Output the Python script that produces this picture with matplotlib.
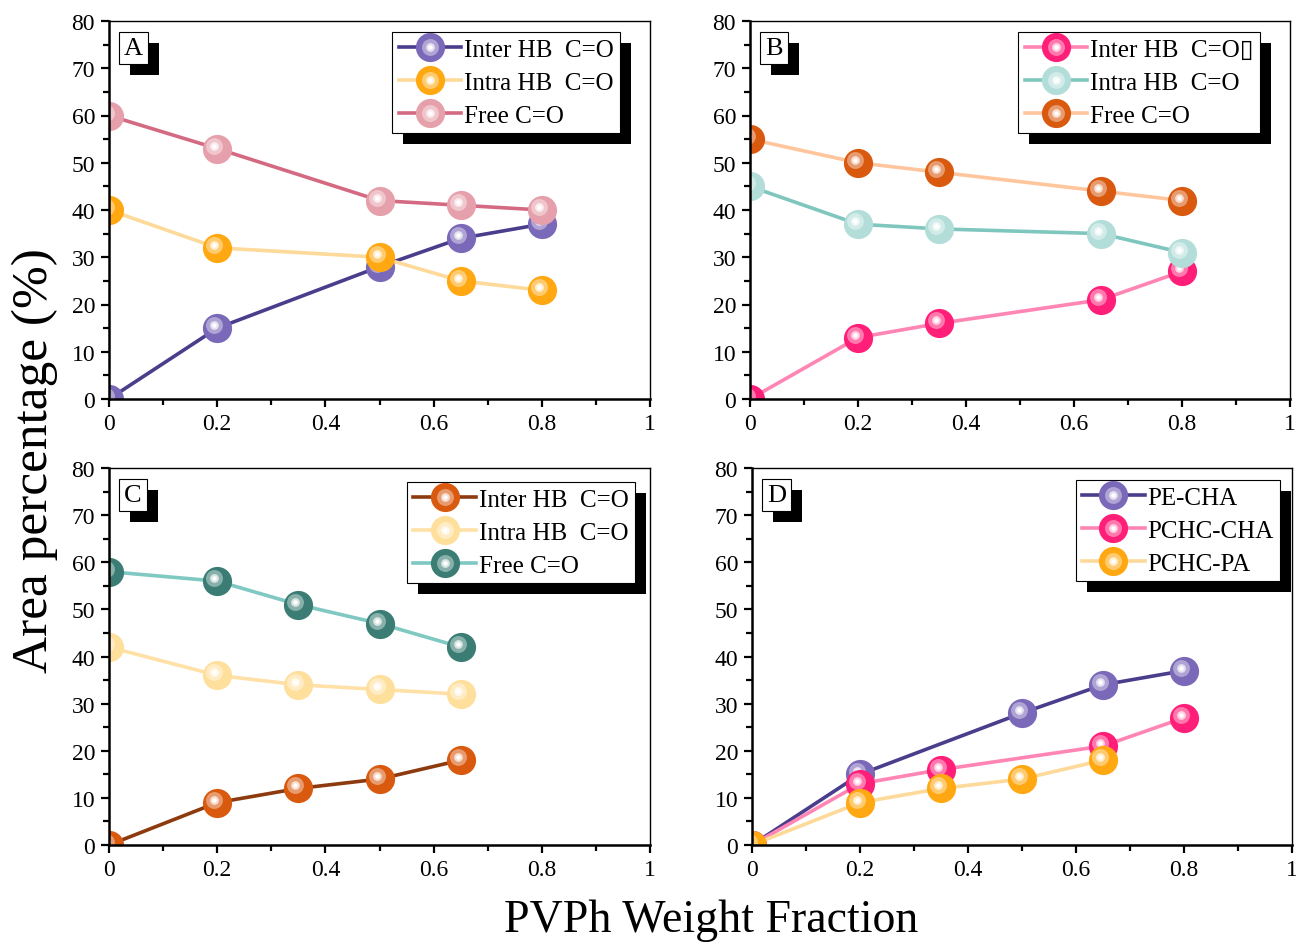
import matplotlib
matplotlib.use("Agg")
import matplotlib.pyplot as plt
import matplotlib.transforms as mtransforms
from matplotlib.patches import Rectangle
from matplotlib.ticker import MultipleLocator, FixedLocator

plt.rcParams['font.family'] = ['Liberation Serif', 'DejaVu Sans']

# ---------------- data ----------------
xA_inter = [0, 0.2, 0.5, 0.65, 0.8]
yA_inter = [0, 15, 28, 34, 37]
xA_intra = [0, 0.2, 0.5, 0.65, 0.8]
yA_intra = [40, 32, 30, 25, 23]
xA_free = [0, 0.2, 0.5, 0.65, 0.8]
yA_free = [60, 53, 42, 41, 40]

xB = [0, 0.2, 0.35, 0.65, 0.8]
yB_inter = [0, 13, 16, 21, 27]
yB_intra = [45, 37, 36, 35, 31]
yB_free = [55, 50, 48, 44, 42]

xC = [0, 0.2, 0.35, 0.5, 0.65]
yC_inter = [0, 9, 12, 14, 18]
yC_intra = [42, 36, 34, 33, 32]
yC_free = [58, 56, 51, 47, 42]

xD_pe = [0, 0.2, 0.5, 0.65, 0.8]
yD_pe = [0, 15, 28, 34, 37]
xD_pchc_cha = [0, 0.2, 0.35, 0.65, 0.8]
yD_pchc_cha = [0, 13, 16, 21, 27]
xD_pchc_pa = [0, 0.2, 0.35, 0.5, 0.65]
yD_pchc_pa = [0, 9, 12, 14, 18]

labels_ABC = ["Inter HB  C=O", "Intra HB  C=O", "Free C=O"]
labels_B = ["Inter HB  C=O\u25AF", "Intra HB  C=O", "Free C=O"]
labels_D = ["PE-CHA", "PCHC-CHA", "PCHC-PA"]
panel_letters = ["A", "B", "C", "D"]
xtick_vals = [0, 0.2, 0.4, 0.6, 0.8, 1]
xtick_labels = ["0", "0.2", "0.4", "0.6", "0.8", "1"]

# colours (line, marker)
PURPLE = ("#4a3d8c", "#7a68b8")
ORANGE = ("#fdd99a", "#ffa812")
PINKA = ("#d46a82", "#e6a0ab")
MAGENTA = ("#ff85b5", "#ff1f78")
TEALL = ("#7fc6bf", "#b2ddd9")
PEACH = ("#ffc69e", "#d9590f")
BROWN = ("#8c3a0e", "#d9590f")
CREAM = ("#ffe0a6", "#ffdf9c")
TEALD = ("#7fc9c2", "#3b7d74")

W, H = 1296, 945
fig = plt.figure(figsize=(W / 100, H / 100), dpi=100)

def px_axes(x0, x1, y_top, y_bot):
    return fig.add_axes([x0 / W, 1 - y_bot / H, (x1 - x0) / W, (y_bot - y_top) / H])

axA = px_axes(109, 650, 22, 400)
axB = px_axes(750, 1290, 22, 400)
axC = px_axes(109, 650, 469, 846)
axD = px_axes(752, 1292, 469, 846)

MS = 21

def lighten(c, f):
    r, g, b = matplotlib.colors.to_rgb(c)
    return (r + (1 - r) * f, g + (1 - g) * f, b + (1 - b) * f)

def ball(ax, x, y, cols, label):
    lc, mc = cols
    ln, = ax.plot(x, y, '-', color=lc, lw=2.6, marker='o', ms=MS,
                  mfc=mc, mec=mc, mew=0)
    tr = mtransforms.offset_copy(ax.transData, fig=fig, x=-3, y=3, units='dots')
    h1, = ax.plot(x, y, 'o', ls='none', ms=MS * 0.58, mfc=lighten(mc, 0.4),
                  mew=0, transform=tr)
    h2, = ax.plot(x, y, 'o', ls='none', ms=MS * 0.3, mfc=lighten(mc, 0.8),
                  mew=0, transform=tr)
    h3, = ax.plot(x, y, 'o', ls='none', ms=MS * 0.15, mfc='white',
                  mew=0, transform=tr)
    return (ln, h1, h2, h3), label

def style(ax, letter):
    ax.set_xlim(0, 1)
    ax.set_ylim(0, 80)
    ax.xaxis.set_major_locator(FixedLocator(xtick_vals))
    ax.set_xticklabels(xtick_labels)
    ax.xaxis.set_minor_locator(MultipleLocator(0.1))
    ax.yaxis.set_major_locator(MultipleLocator(10))
    ax.yaxis.set_minor_locator(MultipleLocator(5))
    ax.tick_params(which='both', direction='out', top=False, right=False,
                   labelsize=17, width=1.6)
    ax.tick_params(which='major', length=6, pad=4)
    ax.tick_params(which='minor', length=4)
    for s in ['left', 'bottom']:
        ax.spines[s].set_linewidth(1.8)
    for s in ['top', 'right']:
        ax.spines[s].set_linewidth(1.0)
    t = ax.text(0.028, 0.958, letter, transform=ax.transAxes, fontsize=19,
                va='top', ha='left', zorder=20,
                bbox=dict(boxstyle='square,pad=0.2', fc='white', ec='black', lw=0.8))
    return t

hA = [ball(axA, xA_inter, yA_inter, PURPLE, labels_ABC[0]),
      ball(axA, xA_intra, yA_intra, ORANGE, labels_ABC[1]),
      ball(axA, xA_free, yA_free, PINKA, labels_ABC[2])]
hB = [ball(axB, xB, yB_inter, MAGENTA, labels_B[0]),
      ball(axB, xB, yB_intra, TEALL, labels_B[1]),
      ball(axB, xB, yB_free, PEACH, labels_B[2])]
hC = [ball(axC, xC, yC_inter, BROWN, labels_ABC[0]),
      ball(axC, xC, yC_intra, CREAM, labels_ABC[1]),
      ball(axC, xC, yC_free, TEALD, labels_ABC[2])]
hD = [ball(axD, xD_pe, yD_pe, PURPLE, labels_D[0]),
      ball(axD, xD_pchc_cha, yD_pchc_cha, MAGENTA, labels_D[1]),
      ball(axD, xD_pchc_pa, yD_pchc_pa, ORANGE, labels_D[2])]

axes = [axA, axB, axC, axD]
texts = []
legs = []
anchors = [(0.945, 0.971), (0.944, 0.971), (0.972, 0.963), (0.978, 0.968)]
for ax, hs, letter, anc in zip(axes, [hA, hB, hC, hD], panel_letters, anchors):
    texts.append(style(ax, letter))
    leg = ax.legend([h for h, _ in hs], [l for _, l in hs], loc='upper right',
                    bbox_to_anchor=anc, borderaxespad=0, fontsize=18,
                    handlelength=2.5, handletextpad=0.12, labelspacing=0.42,
                    borderpad=0.25, fancybox=False, framealpha=1,
                    edgecolor='black')
    leg.get_frame().set_linewidth(0.8)
    leg.set_zorder(20)
    legs.append(leg)

fig.text(0.027, 0.513, "Area percentage (%)", rotation=90, fontsize=37,
         ha='center', va='center')
fig.text(0.549, 0.026, "PVPh Weight Fraction", fontsize=33,
         ha='center', va='center')

# black shadows for legends and panel labels (drawn inside each axes, beneath)
fig.canvas.draw()
r = fig.canvas.get_renderer()
for ax, leg, t in zip(axes, legs, texts):
    for item, off in [(leg, 11), (t.get_bbox_patch(), 11)]:
        bb = item.get_window_extent(r)
        rect = Rectangle((bb.x0 + off, bb.y0 - off), bb.width, bb.height,
                         transform=mtransforms.IdentityTransform(),
                         fc='black', ec='none', zorder=15, clip_on=False)
        ax.add_artist(rect)
fig.savefig("out.png", dpi=100)
